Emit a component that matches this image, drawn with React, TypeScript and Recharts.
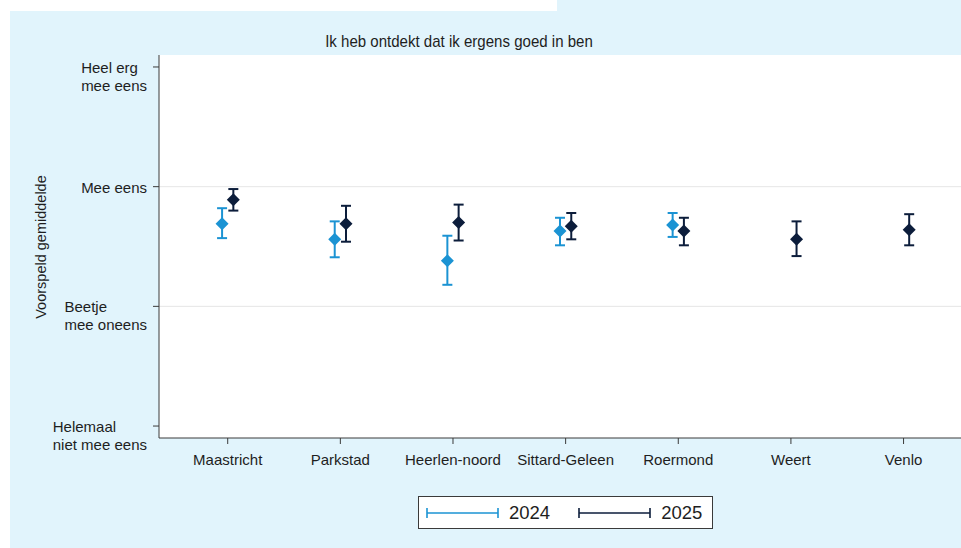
import React from 'react'
import {
    ScatterChart,
    Scatter,
    XAxis,
    YAxis,
    CartesianGrid,
    ErrorBar,
    ReferenceLine
} from 'recharts'

const regions = ['Maastricht', 'Parkstad', 'Heerlen-noord', 'Sittard-Geleen', 'Roermond', 'Weert', 'Venlo']

// 2024: no data for Weert and Venlo
const mean2024 = [2.69, 2.56, 2.38, 2.63, 2.68, null, null]
const low2024 = [2.57, 2.41, 2.18, 2.51, 2.58, null, null]
const high2024 = [2.82, 2.71, 2.59, 2.74, 2.78, null, null]

const mean2025 = [2.89, 2.69, 2.70, 2.67, 2.63, 2.56, 2.64]
const low2025 = [2.80, 2.54, 2.55, 2.56, 2.51, 2.42, 2.51]
const high2025 = [2.98, 2.84, 2.85, 2.78, 2.74, 2.71, 2.77]

const yTicks = [1, 2, 3, 4]
const yTickLabels = [
    ['Helemaal', 'niet mee eens'],
    ['Beetje', 'mee oneens'],
    ['Mee eens'],
    ['Heel erg', 'mee eens']
]

const title = 'Ik heb ontdekt dat ik ergens goed in ben'
const yTitle = 'Voorspeld gemiddelde'
const seriesNames = ['2024', '2025']

const LIGHT = '#1b93d3'
const DARK = '#0c1d3b'
const BG = '#e1f4fc'
const TEXT = '#1e1e1e'
const FONT = "'Liberation Sans', Arial, sans-serif"

const build = (means: (number | null)[], lows: (number | null)[], highs: (number | null)[], shift: number) =>
    means
        .map((m, i) => m == null ? null : {
            x: i + 1 + shift,
            y: m,
            err: [m - (lows[i] as number), (highs[i] as number) - m]
        })
        .filter(Boolean)

const data2024 = build(mean2024, low2024, high2024, -0.05)
const data2025 = build(mean2025, low2025, high2025, 0.05)

let ctx: CanvasRenderingContext2D | null = null
const measure = (s: string) => {
    if (!ctx) ctx = document.createElement('canvas').getContext('2d')
    if (!ctx) return s.length * 7.5
    ctx.font = `15px ${FONT}`
    return ctx.measureText(s).width
}

const Diamond = (color: string) => (props: any) => {
    const { cx, cy } = props
    const r = 6.5
    return <polygon points={`${cx},${cy - r} ${cx + r},${cy} ${cx},${cy + r} ${cx - r},${cy}`} fill={color} />
}

const YTick = (props: any) => {
    const { x, y, payload } = props
    const lines = yTickLabels[yTicks.indexOf(payload.value)] || []
    const w = Math.max(...lines.map(measure))
    return (
        <text x={x - w} y={y} fill={TEXT} fontSize={15} fontFamily={FONT} dominantBaseline="central">
            {lines.map((l, i) => (
                <tspan key={i} x={x - w} dy={i === 0 ? 0 : 18}>{l}</tspan>
            ))}
        </text>
    )
}

const LegendItem = ({ color, label }: { color: string, label: string }) => (
    <div style={{ display: 'flex', alignItems: 'center' }}>
        <svg width={74} height={12}>
            <line x1={1} y1={6} x2={72} y2={6} stroke={color} strokeWidth={1.6} />
            <line x1={1} y1={1} x2={1} y2={11} stroke={color} strokeWidth={1.6} />
            <line x1={72} y1={1} x2={72} y2={11} stroke={color} strokeWidth={1.6} />
        </svg>
        <span style={{ marginLeft: 9, fontSize: 18.5 }}>{label}</span>
    </div>
)

const App = () => {
    return (
        <div style={{ position: 'fixed', left: 0, top: 0, width: 961, height: 548, background: BG, fontFamily: FONT, color: TEXT, overflow: 'hidden' }}>
            {/* white strips from the screenshot crop */}
            <div style={{ position: 'absolute', left: 0, top: 0, width: 557, height: 11, background: '#fff' }} />
            <div style={{ position: 'absolute', left: 0, top: 0, width: 10, height: 548, background: '#fff' }} />

            <div style={{ position: 'absolute', left: 0, top: 31.5, width: 918, textAlign: 'center', fontSize: 17, transform: 'scaleX(0.885)', transformOrigin: '459px 0' }}>{title}</div>

            <div style={{ position: 'absolute', left: 0, top: 0 }}>
                <ScatterChart width={961} height={548} margin={{ top: 55, right: 0, bottom: 80, left: 0 }}>
                    <CartesianGrid fill="#fff" horizontal={false} vertical={false} />
                    <ReferenceLine y={2} stroke="#e6e6e6" />
                    <ReferenceLine y={3} stroke="#e6e6e6" />
                    <XAxis
                        type="number"
                        dataKey="x"
                        domain={[0.39, 7.51]}
                        ticks={regions.map((_, i) => i + 1)}
                        tickFormatter={(v) => regions[v - 1]}
                        allowDataOverflow
                        height={30}
                        tickSize={6}
                        tickMargin={10}
                        stroke="#3a3a3a"
                        tick={{ fill: TEXT, fontSize: 15, fontFamily: FONT }}
                    />
                    <YAxis
                        type="number"
                        dataKey="y"
                        domain={[0.9, 4.1]}
                        ticks={yTicks}
                        allowDataOverflow
                        width={159}
                        tickSize={6}
                        tickMargin={6}
                        stroke="#3a3a3a"
                        tick={<YTick />}
                        label={{
                            content: () => (
                                <text x={41} y={247} transform="rotate(-90, 41, 247)" textAnchor="middle" dominantBaseline="central" fontSize={14.5} fontFamily={FONT} fill={TEXT}>{yTitle}</text>
                            )
                        }}
                    />
                    <Scatter name={seriesNames[0]} data={data2024} fill={LIGHT} shape={Diamond(LIGHT)} isAnimationActive={false}>
                        <ErrorBar dataKey="err" direction="y" width={5} stroke={LIGHT} strokeWidth={2} isAnimationActive={false} />
                    </Scatter>
                    <Scatter name={seriesNames[1]} data={data2025} fill={DARK} shape={Diamond(DARK)} isAnimationActive={false}>
                        <ErrorBar dataKey="err" direction="y" width={5} stroke={DARK} strokeWidth={2} isAnimationActive={false} />
                    </Scatter>
                </ScatterChart>
            </div>

            {/* legend */}
            <div style={{ position: 'absolute', left: 418, top: 496, width: 286, height: 31, border: '1px solid #3a3a3a', background: '#fff', display: 'flex', alignItems: 'center', paddingLeft: 7, boxSizing: 'content-box', gap: 28 }}>
                <LegendItem color={LIGHT} label={seriesNames[0]} />
                <LegendItem color={DARK} label={seriesNames[1]} />
            </div>
        </div>
    )
}

export default App
